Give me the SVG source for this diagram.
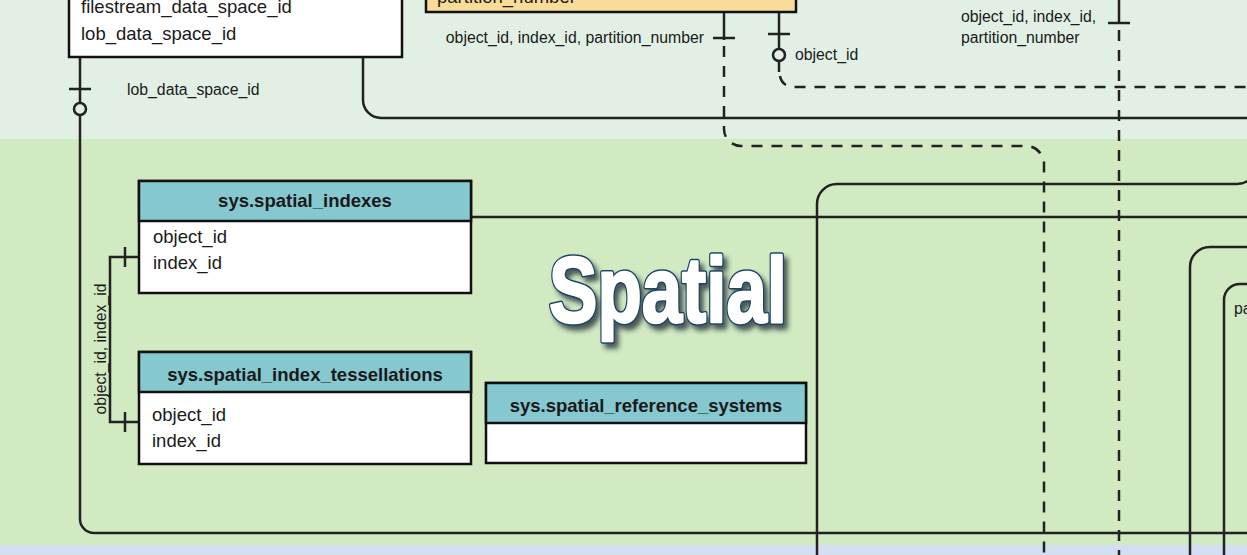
<svg xmlns="http://www.w3.org/2000/svg" width="1247" height="555" viewBox="0 0 1247 555">
<defs>
<style>
.fld{font-family:"Liberation Sans",Arial,sans-serif;font-size:18.5px;fill:#1a1a1a}
.ttl{font-family:"Liberation Sans",Arial,sans-serif;font-size:18.5px;font-weight:bold;fill:#1a1a1a;text-anchor:middle}
.lbl{font-family:"Liberation Sans",Arial,sans-serif;font-size:15.8px;fill:#1a1a1a}
.box{fill:#ffffff;stroke:#111;stroke-width:2.5}
.hdr{fill:#85c8d0;stroke:#111;stroke-width:2.5}
.ln{fill:none;stroke:#222;stroke-width:2.5}
.dl{fill:none;stroke:#222;stroke-width:2.5;stroke-dasharray:11 9}
.big{font-family:"Liberation Sans",Arial,sans-serif;font-weight:bold;font-size:92px}
</style>
<filter id="sh" x="-10%" y="-20%" width="130%" height="150%">
<feDropShadow dx="4" dy="5" stdDeviation="2.5" flood-color="#1d2b33" flood-opacity="0.75"/>
</filter>
</defs>
<rect x="0" y="0" width="1247" height="139" fill="#e2efe4"/>
<rect x="0" y="139" width="1247" height="406" fill="#d1eac2"/>
<rect x="0" y="545" width="1247" height="10" fill="#d3dff0"/>

<g id="connectors">
<path class="ln" d="M80 57 V519 A14 14 0 0 0 94 533 H1250"/>
<line class="ln" x1="69" y1="89" x2="91" y2="89"/>
<circle cx="80" cy="109" r="6" fill="#e2efe4" stroke="#222" stroke-width="2.5"/>
<path class="ln" d="M363 57 V100 A18 18 0 0 0 381 118 H1250"/>
<path class="ln" d="M724 12 V40"/>
<line class="ln" x1="713" y1="38" x2="735" y2="38"/>
<path class="dl" d="M724 46 V129 A17 17 0 0 0 741 146 H1026 A18 18 0 0 1 1044 164 V555"/>
<path class="ln" d="M779 12 V72"/>
<line class="ln" x1="768" y1="34" x2="790" y2="34"/>
<circle cx="779" cy="55" r="6" fill="#e2efe4" stroke="#222" stroke-width="2.5"/>
<path class="dl" d="M780 76 A13 13 0 0 0 793 87 H1250"/>
<path class="ln" d="M1119 0 V24"/>
<line class="ln" x1="1108" y1="23" x2="1130" y2="23"/>
<path class="dl" d="M1119 30 V555"/>
<path class="ln" d="M817 555 V204 A20 20 0 0 1 837 184 H1237 A20 20 0 0 0 1257 164 V140"/>
<path class="ln" d="M471 217 H1250"/>
<path class="ln" d="M1190 555 V267 A20 20 0 0 1 1210 247 H1250"/>
<path class="ln" d="M1224 555 V300 A16 16 0 0 1 1240 284 H1250"/>
<path class="ln" d="M139 257 H110 V422 H139"/>
<line class="ln" x1="125" y1="247" x2="125" y2="267"/>
<line class="ln" x1="125" y1="412" x2="125" y2="432"/>
<text class="lbl" x="127" y="95">lob_data_space_id</text>
<text class="lbl" x="704" y="43" text-anchor="end">object_id, index_id, partition_number</text>
<text class="lbl" x="795" y="60">object_id</text>
<text class="lbl" x="961" y="22">object_id, index_id,</text>
<text class="lbl" x="961" y="43">partition_number</text>
<text class="lbl" x="1234" y="314">pa</text>
<text class="lbl" transform="translate(106 349) rotate(-90)" text-anchor="middle">object_id, index_id</text>
</g>

<g id="node-data-spaces">
<rect class="box" x="69" y="-60" width="333" height="117"/>
<text class="fld" x="81" y="13">filestream_data_space_id</text>
<text class="fld" x="81" y="40">lob_data_space_id</text>
</g>

<g id="node-partitions">
<rect x="426" y="-60" width="370" height="72" fill="#f8dc98" stroke="#111" stroke-width="2.5"/>
<text class="fld" x="437" y="3">partition_number</text>
</g>

<g id="node-spatial-indexes">
<rect class="box" x="139" y="181" width="332" height="112"/>
<rect class="hdr" x="139" y="181" width="332" height="40"/>
<text class="ttl" x="305" y="207">sys.spatial_indexes</text>
<text class="fld" x="153" y="243">object_id</text>
<text class="fld" x="153" y="269">index_id</text>
</g>

<g id="node-spatial-index-tessellations">
<rect class="box" x="139" y="352" width="332" height="112"/>
<rect class="hdr" x="139" y="352" width="332" height="40"/>
<text class="ttl" x="305" y="381">sys.spatial_index_tessellations</text>
<text class="fld" x="152" y="421">object_id</text>
<text class="fld" x="152" y="447">index_id</text>
</g>

<g id="node-spatial-reference-systems">
<rect class="box" x="486" y="383" width="320" height="80"/>
<rect class="hdr" x="486" y="383" width="320" height="40"/>
<text class="ttl" x="646" y="412">sys.spatial_reference_systems</text>
</g>

<g id="title">
<text class="big" x="549" y="322" fill="#1b4266" stroke="#1b4266" stroke-width="5.5" stroke-linejoin="round" textLength="238" lengthAdjust="spacingAndGlyphs" filter="url(#sh)">Spatial</text>
<text class="big" x="549" y="322" fill="#ffffff" stroke="#ffffff" stroke-width="2.5" stroke-linejoin="round" textLength="238" lengthAdjust="spacingAndGlyphs">Spatial</text>
</g>
</svg>
